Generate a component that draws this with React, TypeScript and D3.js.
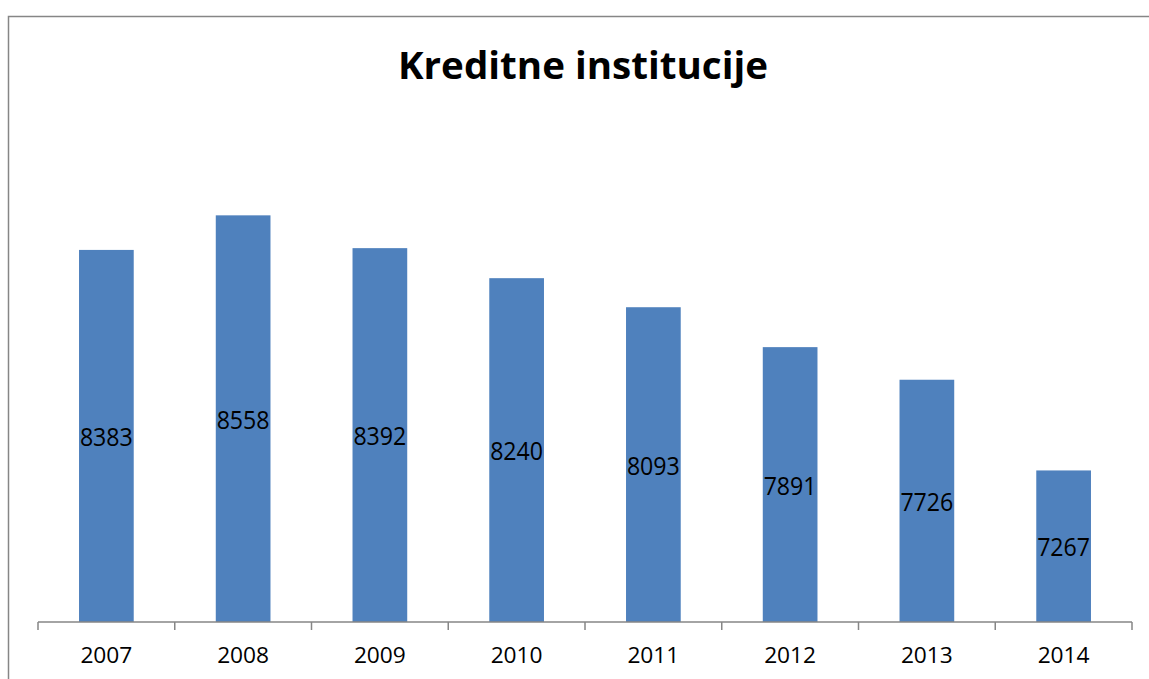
import React from "react";
import * as d3 from "d3";

const years = ["2007", "2008", "2009", "2010", "2011", "2012", "2013", "2014"];
const values = [8383, 8558, 8392, 8240, 8093, 7891, 7726, 7267];
const title = "Kreditne institucije";
const yDomain = [6500, 9000];

const W = 1149;
const H = 679;
const BAR_COLOR = "#4F81BD";
const AXIS_COLOR = "#868686";

export default function App() {
  const x = d3.scaleBand<string>().domain(years).range([38, 1132]).paddingInner(0.6).paddingOuter(0.3);
  const y = d3.scaleLinear().domain(yDomain).range([622, 128]);
  const band = d3.scaleBand<string>().domain(years).range([38, 1132]);
  const base = y(yDomain[0]);

  return (
    <svg width={W} height={H} style={{ position: "absolute", left: 0, top: 0, background: "#fff" }}
      fontFamily="'Open Sans', sans-serif">
      <rect x={0} y={0} width={W} height={H} fill="#fff" />
      <path d={`M8.5,${H + 2}V16.5H${W + 2}`} fill="none" stroke={AXIS_COLOR} strokeWidth={1.5} />
      <text x={583} y={79} textAnchor="middle" fontWeight="bold" fontSize={37}
        textLength={370} lengthAdjust="spacingAndGlyphs" fill="#000">{title}</text>
      {years.map((yr, i) => {
        const v = values[i];
        const bx = x(yr)!;
        const top = y(v);
        return (
          <g key={yr}>
            <rect x={bx} y={top} width={x.bandwidth()} height={base - top} fill={BAR_COLOR} />
            <text x={bx + x.bandwidth() / 2} y={(top + base) / 2} textAnchor="middle" dominantBaseline="central"
              fontSize={25} textLength={53} lengthAdjust="spacingAndGlyphs" fill="#000">{v}</text>
          </g>
        );
      })}
      <line x1={band.range()[0]} x2={band.range()[1]} y1={base} y2={base} stroke={AXIS_COLOR} strokeWidth={1.5} />
      {[...years.map((yr) => band(yr)!), band.range()[1]].map((tx, i) => (
        <line key={i} x1={tx} x2={tx} y1={base} y2={base + 8} stroke={AXIS_COLOR} strokeWidth={1.5} />
      ))}
      {years.map((yr) => (
        <text key={yr} x={band(yr)! + band.bandwidth() / 2} y={663} textAnchor="middle" fontSize={22}
          textLength={52} lengthAdjust="spacingAndGlyphs" fill="#000">{yr}</text>
      ))}
    </svg>
  );
}
